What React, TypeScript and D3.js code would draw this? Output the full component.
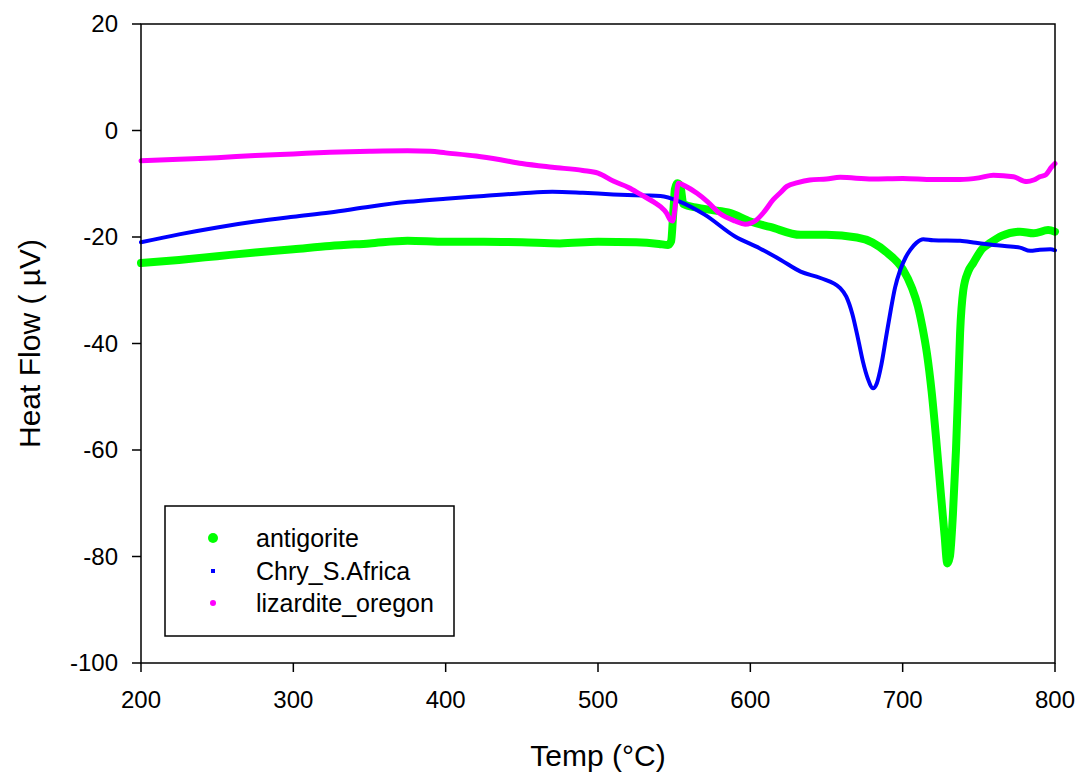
import React from "react";
import * as d3 from "d3";

const antigoriteT = [200, 225, 250, 275, 300, 324, 350, 375, 400, 425, 450, 475, 500, 525, 540, 546, 548, 549.5, 550.5, 552, 554, 556, 565, 574, 587, 600, 613, 633, 650, 670, 680, 690, 700, 706, 710, 713, 716, 719, 722, 725, 727.5, 729.3, 731, 733, 735, 736.5, 737.7, 739.8, 743, 746.3, 752, 757.5, 765, 777, 786, 795.5, 800];
const antigoriteHF = [-24.9, -24.3, -23.6, -22.9, -22.3, -21.7, -21.2, -20.7, -20.9, -20.9, -21.0, -21.2, -20.9, -21.0, -21.3, -21.5, -20.8, -15, -11, -9.9, -10.3, -13.8, -14.5, -14.9, -15.5, -17.1, -18.1, -19.6, -19.6, -20.1, -21.0, -23.0, -26.0, -29.5, -33, -37, -42, -49, -58, -68, -76, -81.3, -80, -72, -60, -48, -38, -30, -26.5, -24.9, -22.3, -21.1, -19.8, -19.0, -19.3, -18.7, -19.0];

const chryT = [200, 225, 250, 275, 300, 324, 350, 375, 400, 425, 450, 470, 490, 510, 530, 541, 554, 570, 590, 606, 620, 633, 646, 659, 663, 667, 671, 674, 677, 680.6, 683, 686, 689, 692, 695, 698.4, 702, 705, 709, 713.5, 720, 737.7, 748, 759.6, 770.6, 777, 783.7, 790, 797, 800];
const chryHF = [-21.0, -19.5, -18.2, -17.1, -16.2, -15.4, -14.3, -13.4, -12.8, -12.3, -11.8, -11.5, -11.7, -12.0, -12.2, -12.3, -13.4, -15.8, -19.9, -22.1, -24.3, -26.5, -27.7, -29.6, -31.2, -34.5, -39.5, -43.5, -46.5, -48.4, -47.5, -44, -39, -34, -29.5, -26.2, -23.8, -22.4, -21.1, -20.4, -20.6, -20.7, -21.1, -21.5, -21.8, -22.0, -22.6, -22.4, -22.3, -22.5];

const lizarditeT = [200, 225, 250, 275, 300, 324, 350, 375, 390, 400, 420, 436, 450, 470, 490, 500, 510, 520, 528, 537, 541, 545, 547.5, 549, 551, 552.7, 557, 565, 572, 580, 590, 596.6, 604, 609, 615, 620, 624, 631, 639, 650, 659, 680, 700, 720, 737.7, 750, 759.5, 772.7, 781.5, 786, 790, 794, 797.7, 800];
const lizarditeHF = [-5.7, -5.4, -5.1, -4.7, -4.4, -4.1, -3.9, -3.8, -3.9, -4.2, -4.8, -5.5, -6.2, -6.9, -7.5, -8.0, -9.5, -10.7, -12.0, -13.5, -14.3, -15.5, -16.8, -17.0, -13.5, -9.9, -10.4, -11.8, -13.4, -15.6, -17.0, -17.6, -16.8, -15.3, -13.0, -11.6, -10.5, -9.8, -9.3, -9.1, -8.8, -9.1, -9.0, -9.2, -9.2, -8.9, -8.4, -8.7, -9.6, -9.3, -8.7, -8.3, -6.9, -6.2];

const xTicks = [200, 300, 400, 500, 600, 700, 800];
const yTicks = [20, 0, -20, -40, -60, -80, -100];

const seriesNames = ["antigorite", "Chry_S.Africa", "lizardite_oregon"];
const seriesColors = ["#00ff00", "#0000ff", "#ff00ff"];

const W = 1080;
const H = 774;
const M = { left: 141, right: 1055, top: 24, bottom: 663 };
const FONT = "'Liberation Sans', Arial, Helvetica, sans-serif";

export default function App() {
  const x = d3.scaleLinear().domain([200, 800]).range([M.left, M.right]);
  const y = d3.scaleLinear().domain([-100, 20]).range([M.bottom, M.top]);

  const mk = (ts: number[], vs: number[]) =>
    d3
      .line<number>()
      .x((_, i) => x(ts[i]))
      .y((v) => y(v))
      .curve(d3.curveMonotoneX)(vs) || "";

  const series = [
    { d: mk(antigoriteT, antigoriteHF), w: 8 },
    { d: mk(chryT, chryHF), w: 4 },
    { d: mk(lizarditeT, lizarditeHF), w: 5 },
  ];

  const legX = 165, legY = 506, legW = 289, legH = 130;
  const rowY = [538, 571, 603];

  return (
    <svg width={W} height={H} style={{ position: "absolute", left: 0, top: 0, background: "#fff" }} fontFamily={FONT}>
      <rect x={0} y={0} width={W} height={H} fill="#fff" />
      <defs>
        <clipPath id="plotclip">
          <rect x={M.left - 6} y={M.top} width={M.right - M.left + 12} height={M.bottom - M.top} />
        </clipPath>
      </defs>
      <g clipPath="url(#plotclip)">
        {series.map((s, i) => (
          <path key={i} d={s.d} fill="none" stroke={seriesColors[i]} strokeWidth={s.w} strokeLinejoin="round" strokeLinecap="round" />
        ))}
      </g>
      {/* frame */}
      <rect x={M.left} y={M.top} width={M.right - M.left} height={M.bottom - M.top} fill="none" stroke="#000" strokeWidth={1.5} />
      {/* x ticks */}
      {xTicks.map((t) => (
        <g key={"x" + t}>
          <line x1={x(t)} x2={x(t)} y1={M.bottom} y2={M.bottom + 9} stroke="#000" strokeWidth={1.5} />
          <text x={x(t)} y={708} textAnchor="middle" fontSize={24} fill="#000">{t}</text>
        </g>
      ))}
      {yTicks.map((t) => (
        <g key={"y" + t}>
          <line x1={M.left - 9} x2={M.left} y1={y(t)} y2={y(t)} stroke="#000" strokeWidth={1.5} />
          <text x={118} y={y(t)} dy="0.35em" textAnchor="end" fontSize={24} fill="#000">{t}</text>
        </g>
      ))}
      <text x={(M.left + M.right) / 2} y={766} textAnchor="middle" fontSize={30} fill="#000">Temp (°C)</text>
      <text transform={`translate(40,${(M.top + M.bottom) / 2}) rotate(-90)`} textAnchor="middle" fontSize={30} fill="#000">Heat Flow ( µV)</text>
      {/* legend */}
      <rect x={legX} y={legY} width={legW} height={legH} fill="#fff" stroke="#000" strokeWidth={1.5} />
      <circle cx={213} cy={rowY[0]} r={5} fill={seriesColors[0]} />
      <rect x={211} y={rowY[1] - 2} width={4} height={4} fill={seriesColors[1]} />
      <circle cx={213} cy={rowY[2]} r={3} fill={seriesColors[2]} />
      {seriesNames.map((n, i) => (
        <text key={n} x={256} y={rowY[i]} dy="0.35em" fontSize={25} fill="#000">{n}</text>
      ))}
    </svg>
  );
}
